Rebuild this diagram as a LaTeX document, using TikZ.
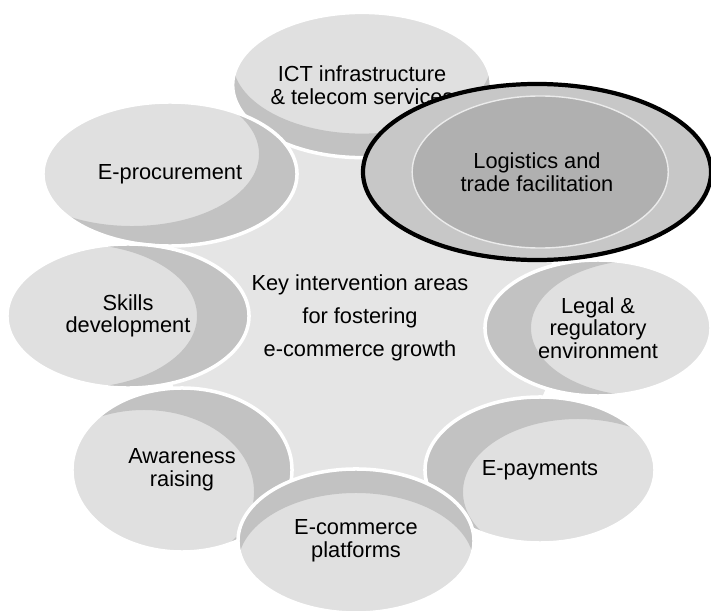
\documentclass[tikz,border=0pt]{standalone}
\usepackage{fontspec}
\setmainfont{Liberation Sans}
\usepackage{tikz}
\usetikzlibrary{calc}
\usetikzlibrary{shapes.geometric}

\begin{document}
\begin{tikzpicture}
[
	x = 0.025cm, y = -0.025cm,
	area/.style = {ellipse, draw = white, line width = 2.5pt, fill = black!12, inner sep = 0cm, align = center, font = \fontsize{15.5}{16}\selectfont,
		path picture = {
			\path [fill = black!24, even odd rule]
				let \p1 = (path picture bounding box.north east), \p2 = (path picture bounding box.center) in
				(\p2) ellipse [x radius = \x1-\x2, y radius = \y1-\y2]
				($(\p2) + #1$) ellipse [x radius = \x1-\x2, y radius = \y1-\y2];
		}},
	core/.style = {ellipse, fill = black!10, inner sep = 0cm, minimum width = 10cm, minimum height = 9.5cm, align = center, font = \fontsize{15.5}{23.5}\selectfont},
	focus/.style = {ellipse, draw = black, line width = 3pt, fill = black!22, inner sep = 0cm, minimum width = 8.7cm, minimum height = 4.4cm, align = center, font = \fontsize{15.5}{16}\selectfont,
		path picture = {
			\draw [black!8, line width = 1pt, fill = black!31] ([xshift = 0.08cm] path picture bounding box.center) ellipse [x radius = 3.2cm, y radius = 1.9cm];
		}},
]
	\useasboundingbox (0,0) rectangle (711,611);

	% centre
	\node (core) [core] at (360,318) {Key intervention areas\\for fostering\\e-commerce growth};

	% ring
	\node (ict) [area = {(0cm,0.6cm)}, minimum width = 6.4cm, minimum height = 3.63cm] at (362,85) {ICT infrastructure\\\& telecom services};
	\node (eproc) [area = {(-0.95cm,0.5cm)}, minimum width = 6.35cm, minimum height = 3.6cm] at (170,174) {E-procurement};
	\node (skills) [area = {(-1.3cm,0cm)}, minimum width = 6.05cm, minimum height = 3.6cm] at (128,316) {Skills\\development};
	\node (aware) [area = {(-0.95cm,-0.55cm)}, minimum width = 5.5cm, minimum height = 4.1cm] at (182,470) {Awareness\\raising};
	\node (payments) [area = {(0.95cm,-0.55cm)}, minimum width = 5.75cm, minimum height = 3.65cm] at (540,470) {E-payments};
	\node (platforms) [area = {(0cm,-0.6cm)}, minimum width = 5.9cm, minimum height = 3.6cm] at (356,541) {E-commerce\\platforms};
	\node (legal) [area = {(1.15cm,0cm)}, minimum width = 5.65cm, minimum height = 3.4cm] at (598,328) {Legal \&\\regulatory\\environment};

	% highlighted
	\node (logistics) [focus] at (537,172) {Logistics and\\trade facilitation};

\end{tikzpicture}
\end{document}
